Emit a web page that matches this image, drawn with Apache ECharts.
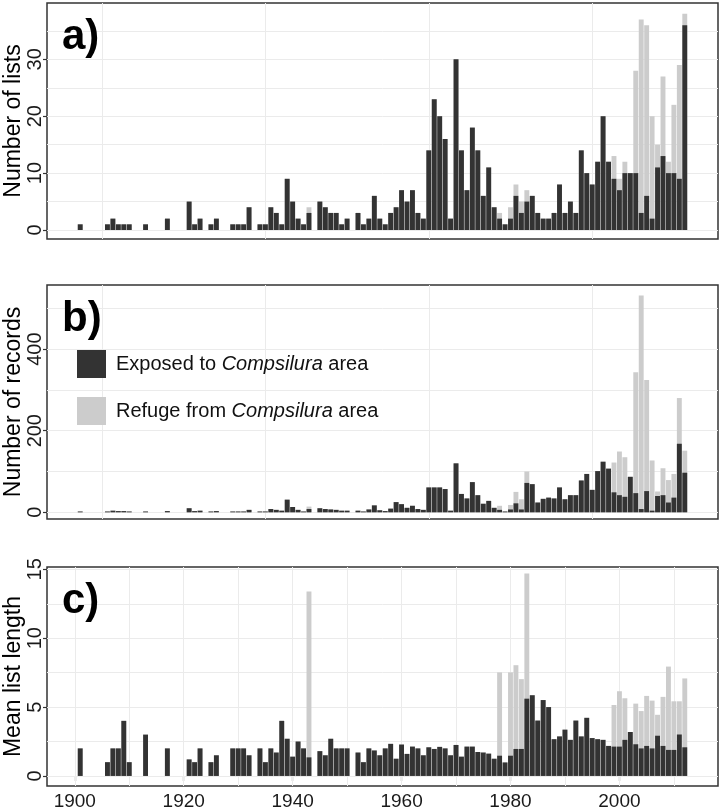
<!DOCTYPE html>
<html><head><meta charset="utf-8">
<script src="https://cdn.jsdelivr.net/npm/echarts@6/dist/echarts.min.js"></script>
<style>html,body{margin:0;padding:0;background:#fff}#c{width:722px;height:812px}</style>
</head><body><div id="c"></div>
<script>
// ---------- DATA ----------
const years = [1901,1906,1907,1908,1909,1910,1913,1917,1921,1922,1923,1925,1926,1929,1930,1931,1932,1934,1935,1936,1937,1938,1939,1940,1941,1942,1943,1945,1946,1947,1948,1949,1950,
1952,1953,1954,1955,1956,1957,1958,1959,1960,1961,1962,1963,1964,1965,1966,1967,1968,1969,1970,1971,1972,1973,1974,1975,1976,1977,1978,1979,1980,1981,1982,1983,1984,1985,1986,1987,1988,1989,1990,1991,1992,1993,1994,1995,1996,1997,1998,1999,2000,2001,2002,2003,2004,2005,2006,2007,2008,2009,2010,2011,2012];

const listsExposed = [1,1,2,1,1,1,1,2,5,1,2,1,2,1,1,1,4,1,1,4,3,1,9,5,2,1,3,5,4,3,3,1,2,
3,1,2,6,2,1,3,4,7,5,7,3,2,14,23,20,16,2,30,14,7,18,14,6,11,4,2,1,2,6,3,5,6,3,2,2,3,8,3,5,3,14,10,8,12,20,12,9,7,10,10,10,3,6,2,11,13,10,10,9,36];

const recordsExposed = [2,2,4,3,3,2,2,3,10,3,4,2,3,2,2,2,6,2,2,8,6,4,31,13,6,2,8,10,8,7,6,4,4,
4,2,7,17,5,3,9,25,20,11,16,8,6,61,61,61,57,4,120,45,34,74,42,21,28,11,6,2,7,22,7,72,69,24,33,36,34,61,32,42,42,78,94,55,101,124,107,49,42,38,87,47,8,52,4,40,42,24,36,168,97];

const lengthExposed = [2.0,1.0,2.0,2.0,4.0,1.0,3.0,2.0,1.2,1.0,2.0,1.0,1.5,2.0,2.0,2.0,1.5,2.0,1.0,2.0,1.7,4.0,2.7,1.4,2.5,2.0,1.35,1.8,1.5,2.7,2.0,2.0,2.0,
1.7,1.0,2.0,1.85,1.5,2.0,2.33,1.25,2.28,1.6,2.13,2.0,1.5,2.08,1.96,2.11,2.0,1.5,2.25,1.4,2.13,2.13,1.74,1.7,1.62,1.25,1.47,0.98,1.47,1.96,1.96,5.61,5.86,4.02,5.51,5.0,2.67,2.87,3.36,2.62,4.02,2.87,4.22,2.75,2.67,2.62,2.18,2.13,2.13,2.62,3.19,2.3,2.0,2.18,2.0,2.92,2.18,1.89,1.89,3.01,2.08];

const refugeYears   = [1943,1978,1980,1981,1982,1983,1999,2000,2001,2003,2004,2005,2006,2007,2008,2009,2010,2011,2012];
const listsRefuge   = [1,1,2,2,2,2,4,2,2,18,34,30,18,4,14,2,12,20,2];
const recordsRefuge = [6,10,11,28,25,28,73,107,97,296,523,272,123,11,66,55,58,112,54];
const lengthRefuge  = [12.05,6.05,6.05,6.08,5.07,9.09,3.02,4.02,3.02,2.95,2.71,3.63,3.47,1.52,3.56,6.05,3.53,2.41,5.0];

const xTicks = [1900,1920,1940,1960,1980,2000];
const xGridAB = [1905,1935,1965,1995];
const xGridC = [1900,1910,1920,1930,1940,1950,1960,1970,1980,1990,2000,2010];
const yTicksA = [0,10,20,30];
const yTicksB = [0,200,400];
const yTicksC = [0,5,10,15];
const yGridA = [0,5,10,15,20,25,30,35];
const yGridB = [0,100,200,300,400,500];
const yGridC = [0,2.5,5,7.5,10,12.5,15];

const nameE = 'Exposed to Compsilura area';
const nameR = 'Refuge from Compsilura area';
const panelTitles = ['a)','b)','c)'];
const yTitles = ['Number of lists','Number of records','Mean list length'];

// ---------- STYLE / LAYOUT ----------
const FONT = "'Liberation Sans', Arial, sans-serif";
const DARK = '#333333', LIGHT = '#cccccc', GRIDC = '#ebebeb';
const L = 47, R = 4;
const grids = [
  {left:L, right:R, top:3,   height:236},
  {left:L, right:R, top:285, height:234},
  {left:L, right:R, top:567, height:219}
];
const xMin = 1894.9, xMax = 2018.1;
const yRanges = [[-1.58, 39.9], [-16.4, 557], [-0.73, 15.17]];
const barW = 0.9 * (722 - L - R) / (xMax - xMin);

// refuge bars are stacked on top of exposed bars: build the top of each stack
function stackTop(exposed, vals) {
  return years.map((y, k) => { const i = refugeYears.indexOf(y); return exposed[k] + (i >= 0 ? vals[i] : 0); });
}
const exposedSets = [listsExposed, recordsExposed, lengthExposed];
const topSets = [stackTop(listsExposed, listsRefuge), stackTop(recordsExposed, recordsRefuge), stackTop(lengthExposed, lengthRefuge)];
const yTickSets = [yTicksA, yTicksB, yTicksC];
const yGridSets = [yGridA, yGridB, yGridC];
const xGridSets = [xGridAB, xGridAB, xGridC];

const xAxes = [], yAxes = [], series = [], titles = [];
for (let p = 0; p < 3; p++) {
  xAxes.push({
    type:'value', gridIndex:p, min:xMin, max:xMax,
    axisLine:{show:false}, splitLine:{show:false},
    axisTick:{show:p===2, length:5, lineStyle:{color:'#333', width:1.2}, customValues:xTicks},
    axisLabel:{show:p===2, customValues:xTicks, formatter:v => String(v), fontSize:19, color:'#1a1a1a', fontFamily:FONT, margin:6}
  });
  yAxes.push({
    type:'value', gridIndex:p, min:yRanges[p][0], max:yRanges[p][1],
    axisLine:{show:false}, splitLine:{show:false},
    axisTick:{show:true, length:4, lineStyle:{color:'#333', width:1.2}, customValues:yTickSets[p]},
    axisLabel:{customValues:yTickSets[p], formatter:v => String(v), rotate:90, fontSize:20, color:'#1a1a1a', fontFamily:FONT, margin:2},
    name: yTitles[p], nameLocation:'middle', nameRotate:90, nameGap:22, nameMoveOverlap:false,
    nameTextStyle:{fontSize:23, color:'#000', fontFamily:FONT}
  });
  const gridLines = yGridSets[p].map(v => ({yAxis:v})).concat(xGridSets[p].map(v => ({xAxis:v})));
  series.push({
    name:nameR, type:'bar', xAxisIndex:p, yAxisIndex:p, z:10, barGap:'-100%',
    barWidth:barW, itemStyle:{color:LIGHT},
    data: years.map((y,i) => [y, topSets[p][i]]),
    markLine:{silent:true, symbol:'none', label:{show:false}, animation:false,
      lineStyle:{color:GRIDC, width:1, type:'solid'}, emphasis:{disabled:true}, data:gridLines}
  });
  series.push({
    name:nameE, type:'bar', xAxisIndex:p, yAxisIndex:p, z:11, barGap:'-100%',
    barWidth:barW, itemStyle:{color:DARK},
    data: years.map((y,i) => [y, exposedSets[p][i]])
  });
  titles.push({text:panelTitles[p], left:62, top:grids[p].top + 13, padding:0,
    textStyle:{fontSize:42, fontWeight:'bold', color:'#000', fontFamily:FONT}});
}

const chart = echarts.init(document.getElementById('c'), null, {renderer:'canvas'});
chart.setOption({
  animation:false,
  backgroundColor:'#ffffff',
  title: titles,
  grid: grids.map(g => Object.assign({show:true, containLabel:false, outerBoundsMode:'none', borderColor:'#333', borderWidth:1.5, backgroundColor:'#fff'}, g)),
  legend: {
    z:20, orient:'vertical', left:77, top:350, padding:0, itemWidth:29, itemHeight:28, itemGap:19,
    icon:'rect', selectedMode:false, backgroundColor:'transparent',
    data:[{name:nameE, itemStyle:{color:DARK, borderWidth:0}}, {name:nameR, itemStyle:{color:LIGHT, borderWidth:0}}],
    formatter: n => n === nameE ? 'Exposed to {i|Compsilura} area' : 'Refuge from {i|Compsilura} area',
    textStyle:{fontSize:20, color:'#111', fontFamily:FONT, padding:[0,0,0,5],
      rich:{i:{fontStyle:'italic', fontSize:20, color:'#111', fontFamily:FONT}}}
  },
  xAxis: xAxes,
  yAxis: yAxes,
  series: series
});
</script></body></html>
